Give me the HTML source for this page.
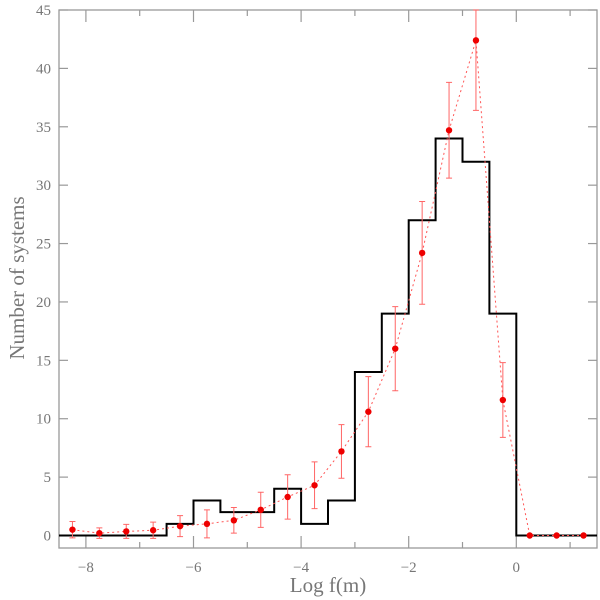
<!DOCTYPE html>
<html><head><meta charset="utf-8"><style>
html,body{margin:0;padding:0;background:#fff;}
svg{display:block;font-family:"Liberation Serif",serif;}
</style></head><body>
<svg id="chart" width="600" height="600" viewBox="0 0 600 600" xmlns="http://www.w3.org/2000/svg">
<rect x="0" y="0" width="600" height="600" fill="#fff"/>
<g id="axes"></g><g id="hist"></g><g id="pts"></g>
<text x="328" y="592" text-anchor="middle" font-size="21" fill="#777">Log f(m)</text>
<text transform="translate(24,278) rotate(-90)" text-anchor="middle" font-size="21" fill="#777">Number of systems</text>
</svg>
<script>
const binEdges = [-8.5,-8,-7.5,-7,-6.5,-6,-5.5,-5,-4.5,-4,-3.5,-3,-2.5,-2,-1.5,-1,-0.5,0,0.5,1,1.5];
const binCounts = [0,0,0,0,1,3,2,2,4,1,3,14,19,27,34,32,19,0,0,0];
const pointX = [-8.25,-7.75,-7.25,-6.75,-6.25,-5.75,-5.25,-4.75,-4.25,-3.75,-3.25,-2.75,-2.25,-1.75,-1.25,-0.75,-0.25,0.25,0.75,1.25];
const pointY = [0.5,0.2,0.35,0.45,0.8,1.0,1.3,2.2,3.3,4.3,7.2,10.6,16,24.2,34.7,42.4,11.6,0,0,0];
const pointErr = [0.7,0.45,0.6,0.7,0.9,1.2,1.1,1.5,1.9,2.0,2.3,3.0,3.6,4.4,4.1,6.0,3.2,0,0,0];
const xTicks = [-8,-6,-4,-2,0];
const yTicks = [0,5,10,15,20,25,30,35,40,45];

const L=59,R=597,T=10,B=548, X0=-8.5,X1=1.5, Y0=-1.07,Y1=45;
const sx=v=>L+(v-X0)/(X1-X0)*(R-L);
const sy=v=>B-(v-Y0)/(Y1-Y0)*(B-T);
const NS="http://www.w3.org/2000/svg";
function mk(tag,attrs,parent){const e=document.createElementNS(NS,tag);for(const k in attrs)e.setAttribute(k,attrs[k]);parent.appendChild(e);return e;}
const axes=document.getElementById('axes');
let f=mk('rect',{x:L,y:T,width:R-L,height:B-T,fill:'none',stroke:'#999','stroke-width':1.3},axes);


for(let v=-8;v<=1;v++){
  const len=(v%2===0)?12:6;
  let t=mk('line',{x1:sx(v),x2:sx(v),y1:B,y2:B-len,stroke:'#999','stroke-width':1.2},axes);
  
  
  let t2=mk('line',{x1:sx(v),x2:sx(v),y1:T,y2:T+len,stroke:'#999','stroke-width':1.2},axes);
  
  
}
xTicks.forEach(v=>{
  let t=mk('text',{x:sx(v),y:572,'text-anchor':'middle','font-size':15,fill:'#777'},axes);
  t.textContent=(v<0?'\u2212'+(-v):v);
  
  
});
yTicks.forEach(v=>{
  let a=mk('line',{x1:L,x2:L+9,y1:sy(v),y2:sy(v),stroke:'#999','stroke-width':1.2},axes);
  
  
  let b=mk('line',{x1:R,x2:R-9,y1:sy(v),y2:sy(v),stroke:'#999','stroke-width':1.2},axes);
  
  
  let t=mk('text',{x:51,y:sy(v)+5,'text-anchor':'end','font-size':15,fill:'#777'},axes);
  t.textContent=v;
  
  
});
// histogram
let d='M'+sx(binEdges[0])+','+sy(binCounts[0]);
for(let i=0;i<binCounts.length;i++){
  if(i>0)d+=' L'+sx(binEdges[i])+','+sy(binCounts[i]);
  d+=' L'+sx(binEdges[i+1])+','+sy(binCounts[i]);
}
let h=mk('path',{d:d,fill:'none',stroke:'#000','stroke-width':2},document.getElementById('hist'));


// points
const pg=document.getElementById('pts');
let ld=pointX.map((x,i)=>(i?'L':'M')+sx(x)+','+sy(pointY[i])).join(' ');
let pl=mk('path',{d:ld,fill:'none',stroke:'#f55','stroke-width':1,'stroke-dasharray':'2,3'},pg);


pointX.forEach((x,i)=>{
  const e=pointErr[i];
  if(e>0){
    const y1=Math.max(sy(pointY[i]+e),T), y2=sy(pointY[i]-e);
    let eb=mk('path',{d:`M${sx(x)},${y1} L${sx(x)},${y2} M${sx(x)-3},${y1} L${sx(x)+3},${y1} M${sx(x)-3},${y2} L${sx(x)+3},${y2}`,stroke:'#f66','stroke-width':1,fill:'none'},pg);
    
    
  }
  let c=mk('circle',{cx:sx(x),cy:sy(pointY[i]),r:3.2,fill:'#e00'},pg);
  
  
});
</script>
</body></html>
